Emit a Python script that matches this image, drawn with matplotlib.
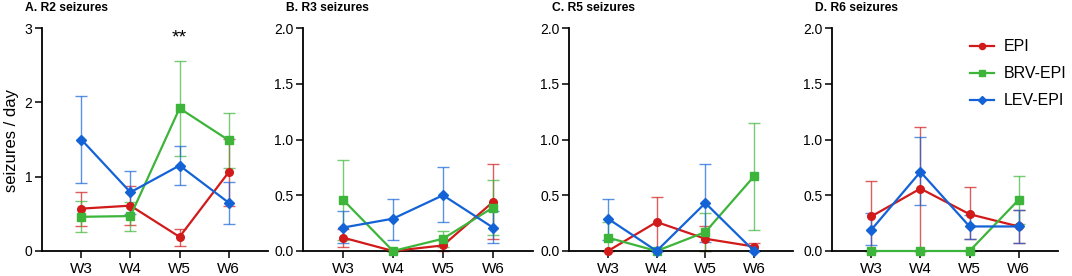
import numpy as np
import matplotlib
matplotlib.use("Agg")
import matplotlib.pyplot as plt

plt.rcParams['font.family'] = ['Liberation Sans', 'DejaVu Sans']

weeks = ["W3", "W4", "W5", "W6"]
groups = ["EPI", "BRV-EPI", "LEV-EPI"]
titles = ["A. R2 seizures", "B. R3 seizures", "C. R5 seizures", "D. R6 seizures"]

# mean, lower end of error bar, upper end of error bar (seizures/day)
# panel A - R2
r2_epi = [0.57, 0.61, 0.19, 1.06]
r2_epi_lo = [0.34, 0.35, 0.07, 0.60]
r2_epi_hi = [0.79, 0.87, 0.30, 1.51]
r2_brv = [0.46, 0.47, 1.92, 1.49]
r2_brv_lo = [0.25, 0.27, 1.28, 1.12]
r2_brv_hi = [0.67, 0.66, 2.56, 1.85]
r2_lev = [1.50, 0.79, 1.15, 0.65]
r2_lev_lo = [0.92, 0.50, 0.89, 0.36]
r2_lev_hi = [2.09, 1.08, 1.41, 0.93]

# panel B - R3
r3_epi = [0.12, 0.0, 0.05, 0.44]
r3_epi_lo = [0.04, 0.0, 0.0, 0.11]
r3_epi_hi = [0.20, 0.0, 0.10, 0.78]
r3_brv = [0.46, 0.0, 0.11, 0.39]
r3_brv_lo = [0.10, 0.0, 0.04, 0.14]
r3_brv_hi = [0.82, 0.0, 0.18, 0.64]
r3_lev = [0.21, 0.29, 0.50, 0.21]
r3_lev_lo = [0.07, 0.10, 0.26, 0.07]
r3_lev_hi = [0.36, 0.47, 0.75, 0.36]

# panel C - R5
r5_epi = [0.0, 0.26, 0.11, 0.04]
r5_epi_lo = [0.0, 0.03, 0.0, 0.0]
r5_epi_hi = [0.0, 0.48, 0.22, 0.07]
r5_brv = [0.12, 0.0, 0.17, 0.67]
r5_brv_lo = [0.0, 0.0, 0.0, 0.19]
r5_brv_hi = [0.26, 0.0, 0.34, 1.15]
r5_lev = [0.29, 0.0, 0.43, 0.0]
r5_lev_lo = [0.10, 0.0, 0.08, 0.0]
r5_lev_hi = [0.47, 0.0, 0.78, 0.0]

# panel D - R6
r6_epi = [0.31, 0.56, 0.33, 0.22]
r6_epi_lo = [0.0, 0.0, 0.11, 0.07]
r6_epi_hi = [0.63, 1.11, 0.57, 0.37]
r6_brv = [0.0, 0.0, 0.0, 0.46]
r6_brv_lo = [0.0, 0.0, 0.0, 0.24]
r6_brv_hi = [0.0, 0.0, 0.0, 0.67]
r6_lev = [0.19, 0.71, 0.22, 0.22]
r6_lev_lo = [0.05, 0.41, 0.11, 0.07]
r6_lev_hi = [0.34, 1.02, 0.32, 0.37]

panels = [
    [(r2_epi, r2_epi_lo, r2_epi_hi), (r2_brv, r2_brv_lo, r2_brv_hi), (r2_lev, r2_lev_lo, r2_lev_hi)],
    [(r3_epi, r3_epi_lo, r3_epi_hi), (r3_brv, r3_brv_lo, r3_brv_hi), (r3_lev, r3_lev_lo, r3_lev_hi)],
    [(r5_epi, r5_epi_lo, r5_epi_hi), (r5_brv, r5_brv_lo, r5_brv_hi), (r5_lev, r5_lev_lo, r5_lev_hi)],
    [(r6_epi, r6_epi_lo, r6_epi_hi), (r6_brv, r6_brv_lo, r6_brv_hi), (r6_lev, r6_lev_lo, r6_lev_hi)],
]

colors = ["#d11a1a", "#3db53a", "#1463d6"]
markers = ["o", "s", "D"]
msizes = [5.5, 5.5, 5]

W, H = 1072, 276
fig = plt.figure(figsize=(W / 100, H / 100), dpi=100)

lefts = [42, 303, 569, 832]
widths = [226, 230, 224, 226]
bottom, top = 251, 28

x = np.arange(len(weeks))
axes = []
for i in range(4):
    ax = fig.add_axes([lefts[i] / W, 1 - bottom / H, widths[i] / W, (bottom - top) / H])
    axes.append(ax)
    for g in range(3):
        m, lo, hi = panels[i][g]
        m = np.array(m)
        yerr = [m - np.array(lo), np.array(hi) - m]
        ax.errorbar(x, m, yerr=yerr, fmt="none", ecolor=colors[g], alpha=0.7,
                    elinewidth=1.0, capsize=4, capthick=1.0, zorder=2, clip_on=False)
        ax.plot(x, m, color=colors[g], marker=markers[g], markersize=msizes[g],
                linewidth=1.6, label=groups[g], zorder=3 + g, clip_on=False)
    ax.set_xlim(-0.8, 3.8)
    ax.set_xticks(x)
    ax.set_xticklabels(weeks, fontsize=11)
    if i == 0:
        ax.set_ylim(0, 3)
        ax.set_yticks([0, 1, 2, 3])
        ax.set_yticklabels(["0", "1", "2", "3"])
    else:
        ax.set_ylim(0, 2)
        ax.set_yticks([0, 0.5, 1.0, 1.5, 2.0])
        ax.set_yticklabels(["0.0", "0.5", "1.0", "1.5", "2.0"])
    ax.tick_params(axis="y", labelsize=10, length=5, width=1.1, direction="out", pad=2)
    ax.tick_params(axis="x", length=5, width=1.1, direction="out", pad=3)
    for s in ["top", "right"]:
        ax.spines[s].set_visible(False)
    for s in ["left", "bottom"]:
        ax.spines[s].set_linewidth(1.3)
    ax.patch.set_alpha(0)
    fig.text((lefts[i] - 17) / W, 1 - 8 / H, titles[i], fontsize=8.7, fontweight="bold",
             ha="left", va="center")

axes[0].text(2, 2.86, "**", fontsize=14, ha="center", va="center")
fig.text(12 / W, 1 - 140 / H, "seizures / day", rotation=90, fontsize=12,
         ha="center", va="center")

axes[3].legend(loc="upper left", bbox_to_anchor=(964 / W, 1 - 33 / H),
               bbox_transform=fig.transFigure, frameon=False, fontsize=11.5,
               handlelength=1.5, handletextpad=0.6, labelspacing=0.75, markerscale=0.8,
               borderaxespad=0)

fig.savefig("out.png", dpi=100)
